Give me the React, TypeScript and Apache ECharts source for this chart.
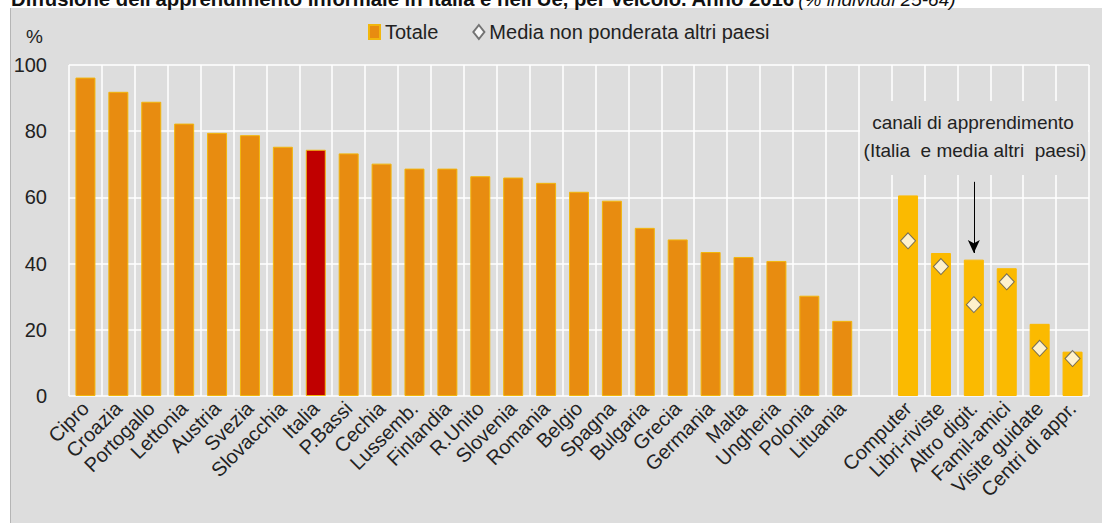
import React, { useEffect, useRef } from "react";
import * as echarts from "echarts";

const countries = [
  "Cipro", "Croazia", "Portogallo", "Lettonia", "Austria", "Svezia", "Slovacchia", "Italia",
  "P.Bassi", "Cechia", "Lussemb.", "Finlandia", "R.Unito", "Slovenia", "Romania", "Belgio",
  "Spagna", "Bulgaria", "Grecia", "Germania", "Malta", "Ungheria", "Polonia", "Lituania",
];
const countryTotals = [
  96.2, 91.9, 88.9, 82.3, 79.5, 78.8, 75.3, 74.4, 73.3, 70.2, 68.7, 68.7, 66.4, 66.0, 64.4, 61.7,
  59.0, 50.8, 47.3, 43.5, 42.0, 40.8, 30.3, 22.7,
];
const channels = ["Computer", "Libri-riviste", "Altro digit.", "Famil-amici", "Visite guidate", "Centri di appr."];
const channelItaly = [60.6, 43.2, 41.2, 38.6, 21.8, 13.4];
const channelOthersAvg = [46.9, 39.1, 27.6, 34.5, 14.4, 11.3];
const yTicks = { min: 0, max: 100, interval: 20 };
const highlighted = "Italia";
const arrowCategory = "Altro digit.";
const arrowFrom = 64.7;
const arrowTo = 43.2;

const titleBold = "Diffusione dell'apprendimento informale in Italia e nell'Ue, per veicolo. Anno 2016";
const titleItalic = "(% individui 25-64)";
const noteLines = ["canali di apprendimento", "(Italia  e media altri  paesi)"];

const ORANGE = "#E88C10";
const BORDER = "#F2B60C";
const RED = "#C00000";
const GOLD = "#FBBA00";
const BG = "#DDDDDD";
const FONT = "'Liberation Sans', Arial, sans-serif";

export default function App() {
  const ref = useRef<HTMLDivElement>(null);
  useEffect(() => {
    if (!ref.current) return;
    const chart = echarts.init(ref.current, null, { renderer: "svg" });
    const categories = [...countries, "", ...channels];
    const barData: any[] = [
      ...countries.map((c, i) => ({
        value: countryTotals[i],
        itemStyle: c === highlighted ? { color: RED, borderColor: BORDER } : undefined,
      })),
      "-",
      ...channelItaly.map((v) => ({ value: v, itemStyle: { color: GOLD, borderColor: GOLD } })),
    ];
    const avgData: any[] = [...countries.map(() => "-"), "-", ...channelOthersAvg];

    chart.setOption({
      animation: false,
      backgroundColor: BG,
      textStyle: { fontFamily: FONT },
      grid: { left: 69, right: 13, top: 65, bottom: 127, containLabel: false },
      legend: {
        left: 368,
        top: 22,
        itemWidth: 11,
        itemHeight: 14,
        itemGap: 34,
        padding: 0,
        textStyle: { fontSize: 20, color: "#222", fontFamily: FONT },
        data: [
          { name: "Totale", icon: "rect" },
          { name: "Media non ponderata altri paesi", icon: "diamond" },
        ],
      },
      xAxis: {
        type: "category",
        data: categories,
        boundaryGap: true,
        axisLine: { show: false },
        axisTick: { show: false },
        splitLine: { show: true, interval: 0, lineStyle: { color: "#FFFFFF", width: 1.5 } },
        axisLabel: {
          interval: 0,
          rotate: 45,
          margin: 9,
          fontSize: 20,
          color: "#222",
          fontFamily: FONT,
        },
      },
      yAxis: {
        type: "value",
        min: yTicks.min,
        max: yTicks.max,
        interval: yTicks.interval,
        axisLine: { show: false },
        axisTick: { show: false },
        splitLine: { show: true, lineStyle: { color: "#FFFFFF", width: 1.5 } },
        axisLabel: { margin: 22, fontSize: 20, color: "#222", fontFamily: FONT },
      },
      series: [
        {
          name: "Totale",
          type: "bar",
          barWidth: 20,
          data: barData,
          z: 2,
          itemStyle: { color: ORANGE, borderColor: BORDER, borderWidth: 1 },
          markLine: {
            silent: true,
            symbol: ["none", "arrow"],
            symbolSize: [9, 13],
            label: { show: false },
            lineStyle: { color: "#000", width: 1, type: "solid" },
            data: [[{ coord: [arrowCategory, arrowFrom] }, { coord: [arrowCategory, arrowTo] }]],
          },
        },
        {
          name: "Media non ponderata altri paesi",
          type: "scatter",
          symbol: "diamond",
          symbolSize: [15, 16],
          data: avgData,
          z: 4,
          itemStyle: { color: "#FFFFFF", borderColor: "#555555", borderWidth: 1 },
        },
      ],
      graphic: [
        { type: "rect", z: 0, shape: { x: 0, y: 0, width: 1102, height: 8 }, style: { fill: "#FFFFFF" }, silent: true },
        { type: "rect", z: 0, shape: { x: 0, y: 0, width: 10, height: 523 }, style: { fill: "#FFFFFF" }, silent: true },
        { type: "line", z: 0, shape: { x1: 10.5, y1: 8, x2: 10.5, y2: 523 }, style: { stroke: "#B5B5B5", lineWidth: 1 }, silent: true },
        {
          type: "text",
          z: 5,
          x: 11,
          y: -1.5,
          silent: true,
          style: {
            text: "{b|" + titleBold + "} {i|" + titleItalic + "}",
            verticalAlign: "middle",
            rich: {
              b: { fontSize: 20.3, fontWeight: "bold", fontFamily: FONT, fill: "#111" },
              i: { fontSize: 19, fontStyle: "italic", fontFamily: FONT, fill: "#111", verticalAlign: "bottom" },
            },
          },
        },
        {
          type: "text",
          z: 5,
          left: 26,
          top: 27,
          silent: true,
          style: { text: "%", fontSize: 19, fontFamily: FONT, fill: "#222" },
        },
        {
          type: "rect",
          z: 1,
          silent: true,
          shape: { x: 860, y: 101, width: 228, height: 74 },
          style: { fill: BG },
        },
        {
          type: "text",
          z: 5,
          x: 973,
          y: 122,
          silent: true,
          style: {
            text: noteLines[0],
            fontSize: 19,
            fontFamily: FONT,
            fill: "#222",
            align: "center",
            verticalAlign: "middle",
          },
        },
        {
          type: "text",
          z: 5,
          x: 975,
          y: 150,
          silent: true,
          style: {
            text: noteLines[1],
            fontSize: 19,
            fontFamily: FONT,
            fill: "#222",
            align: "center",
            verticalAlign: "middle",
          },
        },
      ],
    });
    return () => chart.dispose();
  }, []);
  return (
    <div
      ref={ref}
      style={{ position: "fixed", left: 0, top: 0, width: 1102, height: 523 }}
    />
  );
}
